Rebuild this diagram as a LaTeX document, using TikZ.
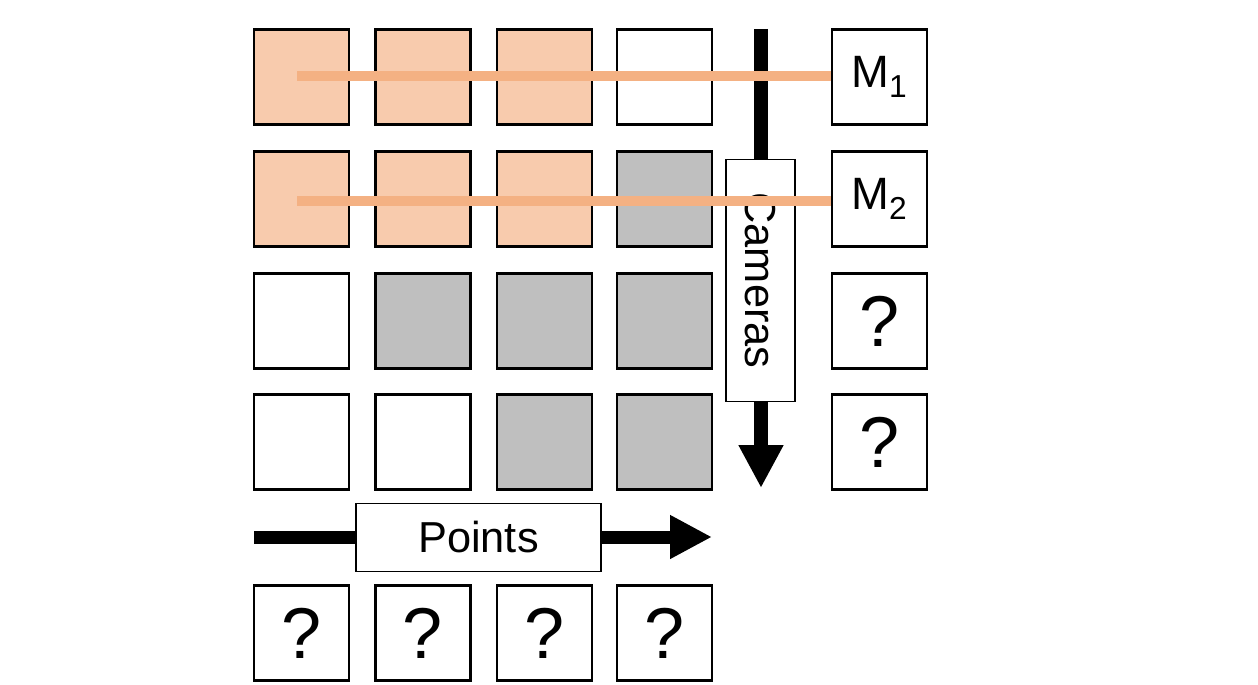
\documentclass[tikz,border=0pt]{standalone}
\usepackage{fontspec}
\setmainfont{Liberation Sans}
\usetikzlibrary{arrows.meta}
\definecolor{orfill}{HTML}{F8CBAD}
\definecolor{orline}{HTML}{F4B183}
\definecolor{grfill}{HTML}{BFBFBF}
\begin{document}
\begin{tikzpicture}[x=0.75pt,y=-0.75pt,
  cell/.style={draw=black,line width=1.6pt,minimum size=71.25pt,inner sep=0pt,fill=white},
  orc/.style={cell,fill=orfill},
  grc/.style={cell,fill=grfill},
  qm/.style={cell,font=\fontsize{54}{60}\selectfont},
  mc/.style={cell,font=\fontsize{34}{40}\selectfont},
  label box/.style={draw=black,line width=0.8pt,fill=white,inner sep=0pt,font=\fontsize{32.5}{36}\selectfont},
  orange bar/.style={draw=orline,line width=7.5pt}
]
\useasboundingbox (0,0) rectangle (1258,685);
% grid
\node[orc] (a11) at (301.5,77) {};
\node[orc] (a12) at (423,77) {};
\node[orc] (a13) at (544.5,77) {};
\node[cell] (a14) at (664.5,77) {};
\node[orc] (a21) at (301.5,199) {};
\node[orc] (a22) at (423,199) {};
\node[orc] (a23) at (544.5,199) {};
\node[grc] (a24) at (664.5,199) {};
\node[cell] (a31) at (301.5,321) {};
\node[grc] (a32) at (423,321) {};
\node[grc] (a33) at (544.5,321) {};
\node[grc] (a34) at (664.5,321) {};
\node[cell] (a41) at (301.5,442) {};
\node[cell] (a42) at (423,442) {};
\node[grc] (a43) at (544.5,442) {};
\node[grc] (a44) at (664.5,442) {};
% M column
\node[mc] (m1) at (879.5,77) {M\textsubscript{1}};
\node[mc] (m2) at (879.5,199) {M\textsubscript{2}};
\node[qm] (m3) at (879.5,321) {?};
\node[qm] (m4) at (879.5,442) {?};
% bottom row
\node[qm] (b1) at (301.5,633) {?};
\node[qm] (b2) at (423,633) {?};
\node[qm] (b3) at (544.5,633) {?};
\node[qm] (b4) at (664.5,633) {?};
% cameras arrow
\coordinate (camtop) at (761,29);
\coordinate (camtip) at (761,488);
\draw[line width=10.5pt,-{Triangle[width=31.5pt,length=32.25pt]}] (camtop) -- (camtip);
\node[label box,minimum width=51.75pt,minimum height=181.5pt] (cam) at (760.5,280.5) {\rotatebox{-90}{Cameras}};
% points arrow
\coordinate (ptstart) at (254,537);
\coordinate (pttip) at (712,537);
\draw[line width=9.75pt,-{Triangle[width=30.75pt,length=31.5pt]}] (ptstart) -- (pttip);
\node[label box,minimum width=183.75pt,minimum height=51.25pt] (pts) at (478.5,537.5) {Points};
% orange lines
\coordinate (o1) at (297,76);
\coordinate (o2) at (297,201);
\draw[orange bar] (o1) -- (m1.west |- o1);
\draw[orange bar] (o2) -- (m2.west |- o2);
\end{tikzpicture}
\end{document}
